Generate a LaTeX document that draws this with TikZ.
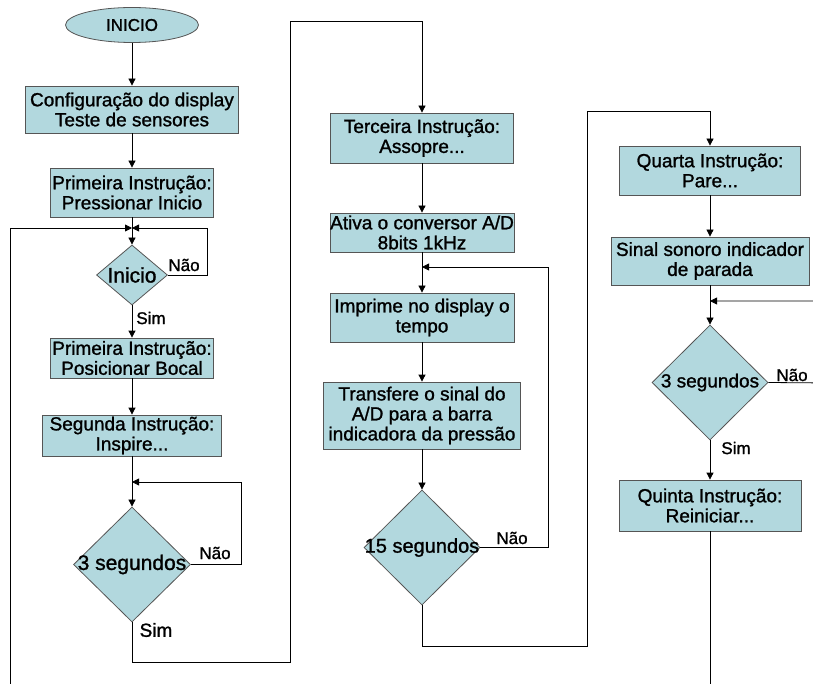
\documentclass[tikz,border=0pt]{standalone}
\usepackage{fontspec}
\setmainfont{Liberation Sans}[BoldFont={Liberation Sans},BoldFeatures={FakeBold=1.2}]
\usetikzlibrary{shapes.geometric,arrows.meta}
\definecolor{caixa}{RGB}{178,216,222}
\definecolor{borda}{RGB}{85,85,85}

\begin{document}
\begin{tikzpicture}[x=1pt,y=-1pt,line width=0.8pt,
  >={Triangle[length=7pt,width=7pt]},
  txt/.style={font=\fontsize{19}{20}\selectfont\bfseries,inner sep=0pt},
  rot/.style={font=\fontsize{17}{18}\selectfont\bfseries,inner sep=0pt},
  proc/.style={draw=borda,fill=caixa,txt,align=center},
  dec/.style={diamond,draw=borda,fill=caixa,inner sep=0pt,label={[txt]center:#1}},
  term/.style={ellipse,draw=borda,fill=caixa,rot,minimum width=133pt,minimum height=35pt}]
\useasboundingbox (0,0) rectangle (813,684);

\node[term] (ini) at (132,25) {INICIO};
\node[proc,minimum width=213pt,minimum height=47pt] (b1) at (132,109.5) {Configuração do display\\Teste de sensores};
\node[proc,minimum width=163pt,minimum height=49pt] (b2) at (132,192.5) {Primeira Instrução:\\Pressionar Inicio};
\node[dec={\fontsize{21}{22}\selectfont Inicio},minimum width=71pt,minimum height=60pt] (d1) at (132,275) {};
\node[proc,minimum width=163pt,minimum height=40pt] (b3) at (132,358) {Primeira Instrução:\\Posicionar Bocal};
\node[proc,minimum width=179pt,minimum height=41pt] (b4) at (132,435.5) {Segunda Instrução:\\Inspire...};
\node[dec={\fontsize{21}{22}\selectfont 3 segundos},minimum width=117pt,minimum height=115pt] (d2) at (132,564.5) {};

\node[proc,minimum width=183pt,minimum height=50pt] (b5) at (422,138) {Terceira Instrução:\\Assopre...};
\node[proc,minimum width=184pt,minimum height=39pt] (b6) at (422,232.5) {Ativa o conversor A/D\\8bits 1kHz};
\node[proc,minimum width=184pt,minimum height=49pt] (b7) at (422,317.5) {Imprime no display o\\tempo};
\node[proc,minimum width=197pt,minimum height=67pt] (b8) at (422,415.5) {Transfere o sinal do\\A/D para a barra\\indicadora da pressão};
\node[dec={\fontsize{20}{21}\selectfont 15 segundos},minimum width=116pt,minimum height=115pt] (d3) at (422,547.5) {};

\node[proc,minimum width=181pt,minimum height=49pt] (b9) at (710,170.5) {Quarta Instrução:\\Pare...};
\node[proc,minimum width=198pt,minimum height=48pt] (b10) at (710,261) {Sinal sonoro indicador\\de parada};
\node[dec=3 segundos,minimum width=116pt,minimum height=115pt] (d4) at (710,382.5) {};
\node[proc,minimum width=182pt,minimum height=51pt] (b11) at (710,505.5) {Quinta Instrução:\\Reiniciar...};

\node[rot] (nao1) at (184,265) {Não};
\node[rot] (sim1) at (151,318) {Sim};
\node[rot] (nao2) at (215,553) {Não};
\node[txt] (sim2) at (156,630) {Sim};
\node[rot] (nao3) at (512,538) {Não};
\node[rot] (nao4) at (792,375) {Não};
\node[rot] (sim4) at (736,448) {Sim};

% pontos de junção e cantos
\coordinate (j1) at (132,228);
\coordinate (j2) at (132,482);
\coordinate (j3) at (422,267);
\coordinate (j4) at (710,301);
\coordinate (k1) at (290,662);
\coordinate (k2) at (290,21);
\coordinate (k3) at (587,646);
\coordinate (k4) at (587,111);
\coordinate (r1) at (830,383);
\coordinate (e1) at (10,700);
\coordinate (e2) at (710,700);

\draw[->] (ini) -- (b1);
\draw[->] (b1) -- (b2);
\draw[->] (b2) -- (d1);
\draw[->] (e1) |- (j1);
\draw[->] (d1.east) -- ++(39,0) |- (j1);
\draw[->] (d1) -- (b3);
\draw[->] (b3) -- (b4);
\draw[->] (b4) -- (d2);
\draw[->] (d2.east) -- ++(50,0) |- (j2);
\draw[->] (d2.south) |- (k1) -- (k2) -| (b5.north);

\draw[->] (b5) -- (b6);
\draw[->] (b6) -- (b7);
\draw[->] (d3.east) -- ++(68,0) |- (j3);
\draw[->] (b7) -- (b8);
\draw[->] (b8) -- (d3);
\draw[->] (d3.south) |- (k3) -- (k4) -| (b9.north);

\draw[->] (b9) -- (b10);
\draw[->] (b10) -- (d4);
\draw[->] (d4.east) -- (r1) |- (j4);
\draw[->] (d4) -- (b11);
\draw (b11) -- (e2);
\end{tikzpicture}
\end{document}
